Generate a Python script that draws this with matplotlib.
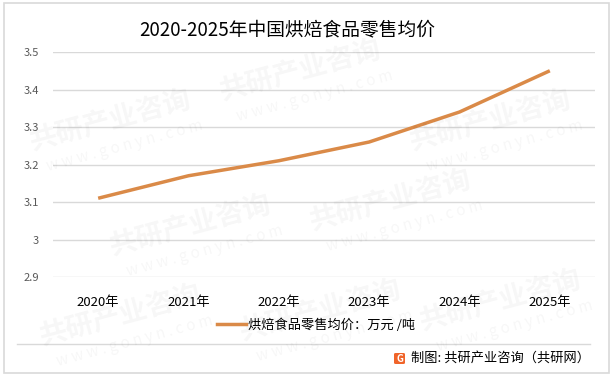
import matplotlib
matplotlib.use("Agg")
import matplotlib.pyplot as plt
from matplotlib.patches import Rectangle, FancyBboxPatch
from matplotlib.lines import Line2D

plt.rcParams['font.family'] = ['Noto Sans CJK SC', 'DejaVu Sans']

# data
years = ['2020年', '2021年', '2022年', '2023年', '2024年', '2025年']
price = [3.11, 3.17, 3.21, 3.26, 3.34, 3.45]
y_ticks = [2.9, 3.0, 3.1, 3.2, 3.3, 3.4, 3.5]
y_tick_labels = ['2.9', '3', '3.1', '3.2', '3.3', '3.4', '3.5']

W, H = 614, 379
colors = {
    'line': '#DA8A48',
    'grid': '#D9D9D9',
    'tick': '#595959',
    'text': '#000000',
}

fig = plt.figure(figsize=(W / 100, H / 100), dpi=100)
fig.patch.set_facecolor('white')


def fx(px):
    return px / W


def fy(py):
    return 1 - py / H


# faint watermark, kept inside the frame
for wx, wy in [(110, 120), (300, 70), (490, 120), (190, 225),
               (390, 200), (500, 300), (120, 315), (320, 310)]:
    fig.text(fx(wx), fy(wy), '共研产业咨询', fontsize=20, fontweight='bold',
             color='#000000', alpha=0.035, rotation=15, ha='center', va='center')
    fig.text(fx(wx + 15), fy(wy + 26), 'w w w . g o n y n . c o m', fontsize=11,
             color='#000000', alpha=0.035, rotation=15, ha='center', va='center')

ax = fig.add_axes([fx(53), fy(277), fx(595) - fx(53), fy(52) - fy(277)])
ax.set_facecolor('none')

x = list(range(len(years)))
ax.plot(x, price, color=colors['line'], linewidth=2.5, solid_capstyle='butt',
        label='烘焙食品零售均价：万元 /吨', zorder=3)

ax.set_xlim(-0.5, len(years) - 0.5)
ax.set_ylim(2.9, 3.5)
ax.set_yticks(y_ticks)
ax.set_yticklabels(y_tick_labels)
ax.set_xticks(x)
ax.set_xticklabels(years)

ax.grid(axis='y', color=colors['grid'], linewidth=1, zorder=0)
ax.grid(axis='x', visible=False)
for side in ['top', 'right', 'left', 'bottom']:
    ax.spines[side].set_visible(False)
ax.tick_params(axis='y', length=0, pad=10, labelsize=8, labelcolor=colors['tick'])
ax.tick_params(axis='x', length=0, pad=14, labelsize=9.5, labelcolor=colors['text'])

# title
fig.text(fx(287), fy(30), '2020-2025年中国烘焙食品零售均价', fontsize=13.5,
         color=colors['text'], ha='center', va='center')

# legend
fig.legend(handles=[Line2D([0], [0], color=colors['line'], linewidth=2.5)],
           labels=['烘焙食品零售均价：万元 /吨'], loc='center',
           bbox_to_anchor=(fx(316), fy(325)), frameon=False, fontsize=9.5,
           handlelength=2.2, handletextpad=0.2)

# separator and frame
fig.add_artist(Line2D([fx(17), fx(590)], [fy(344), fy(344)], color=colors['grid'],
                      linewidth=1))
fig.add_artist(Rectangle((fx(4), fy(373)), fx(609) - fx(4), fy(3) - fy(373),
                         fill=False, edgecolor=colors['grid'], linewidth=1.2))

# source footer with logo
fig.add_artist(FancyBboxPatch((fx(394), fy(364)), fx(11), fy(353) - fy(364),
                              boxstyle='round,pad=0,rounding_size=0.003',
                              facecolor='#F0642A', edgecolor='none'))
fig.text(fx(399.5), fy(358.5), 'G', fontsize=7, fontweight='bold', color='white',
         ha='center', va='center')
fig.text(fx(590), fy(358), '制图: 共研产业咨询（共研网）', fontsize=9.5,
         color=colors['text'], ha='right', va='center')

fig.savefig('out.png', dpi=100, facecolor='white')
